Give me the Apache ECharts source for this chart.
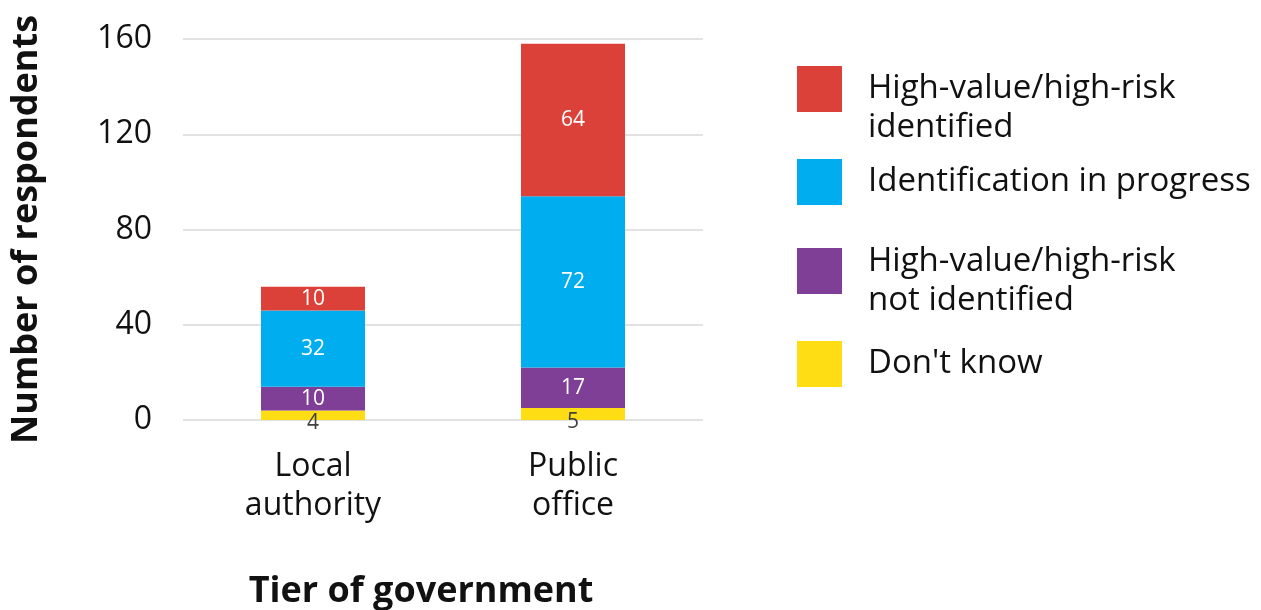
<!DOCTYPE html>
<html>
<head>
<meta charset="utf-8">
<script src="https://cdn.jsdelivr.net/npm/echarts@6/dist/echarts.min.js"></script>
<style>
  html, body { margin: 0; padding: 0; background: #ffffff; }
  #chart { width: 1261px; height: 610px; }
</style>
</head>
<body>
<div id="chart"></div>
<script>
// Respondents by tier of government, stacked by status
const categories = ['Local\nauthority', 'Public\noffice'];
const dontKnow = [4, 5];
const notIdentified = [10, 17];
const inProgress = [32, 72];
const identified = [10, 64];
const yTicks = { min: 0, max: 160, interval: 40 };

const FONT = 'Open Sans';
const LABEL_FONT = 'Open Sans';

const seriesDefs = [
  { name: "Don't know", data: dontKnow, color: '#FEDD14', labelColor: '#404040', offset: [0, 8] },
  { name: 'High-value/high-risk\nnot identified', data: notIdentified, color: '#7F3F97', labelColor: '#ffffff', offset: [0, 0] },
  { name: 'Identification in progress', data: inProgress, color: '#00AEEF', labelColor: '#ffffff', offset: [0, 0] },
  { name: 'High-value/high-risk\nidentified', data: identified, color: '#DB4139', labelColor: '#ffffff', offset: [0, 0] }
];

// One legend block per entry so each can sit at its own height;
// lead is an empty spacer line that pushes wrapped text down beside the swatch
const LH = 39;
const legendSpec = [
  { name: 'High-value/high-risk\nidentified', top: 45, lead: 39 },
  { name: 'Identification in progress', top: 159, lead: 0 },
  { name: 'High-value/high-risk\nnot identified', top: 227, lead: 21 },
  { name: "Don't know", top: 341, lead: 0 }
];

const legends = legendSpec.map(l => {
  const lines = l.name.split('\n');
  return {
    data: [l.name],
    orient: 'vertical',
    left: 797,
    top: l.top,
    padding: 0,
    itemWidth: 45,
    itemHeight: 46,
    itemGap: 0,
    icon: 'rect',
    selectedMode: false,
    formatter: () => {
      const body = lines.map(t => '{t|' + t + '}').join('\n');
      return l.lead ? '{s| }\n' + body : body;
    },
    textStyle: {
      rich: {
        s: { fontFamily: FONT, fontSize: 10, lineHeight: l.lead || 1 },
        t: { fontFamily: FONT, fontSize: 33, lineHeight: LH, color: '#111111', padding: [0, 0, 0, 21] }
      }
    }
  };
});

const chart = echarts.init(document.getElementById('chart'), null, { renderer: 'canvas' });
chart.setOption({
  animation: false,
  backgroundColor: '#ffffff',
  textStyle: { fontFamily: FONT },
  legend: legends,
  grid: {
    left: 183, right: 558, top: 39, bottom: 190,
    containLabel: false,
    outerBoundsMode: 'none'
  },
  xAxis: {
    type: 'category',
    data: categories,
    axisLine: { show: false },
    axisTick: { show: false },
    axisLabel: {
      fontFamily: FONT, fontSize: 32, lineHeight: 39, color: '#111111', margin: 27
    },
    name: 'Tier of government',
    nameLocation: 'middle',
    nameGap: 154,
    nameTextStyle: {
      fontFamily: FONT, fontSize: 36, fontWeight: 'bold', color: '#111111',
      padding: [0, 44, 0, 0]
    }
  },
  yAxis: {
    type: 'value',
    min: yTicks.min,
    max: yTicks.max,
    interval: yTicks.interval,
    axisLine: { show: false },
    axisTick: { show: false },
    splitLine: { lineStyle: { color: '#d9d9d9', width: 1.5 } },
    axisLabel: { fontFamily: FONT, fontSize: 32, color: '#111111', margin: 31 },
    name: 'Number of respondents',
    nameLocation: 'middle',
    nameGap: 138,
    nameTextStyle: { fontFamily: FONT, fontSize: 36, fontWeight: 'bold', color: '#111111' }
  },
  series: seriesDefs.map(s => ({
    name: s.name,
    type: 'bar',
    stack: 'total',
    barWidth: '40%',
    data: s.data,
    itemStyle: { color: s.color },
    label: {
      show: true,
      position: 'inside',
      offset: s.offset,
      fontFamily: LABEL_FONT,
      fontSize: 21,
      color: s.labelColor
    }
  }))
});
</script>
</body>
</html>
